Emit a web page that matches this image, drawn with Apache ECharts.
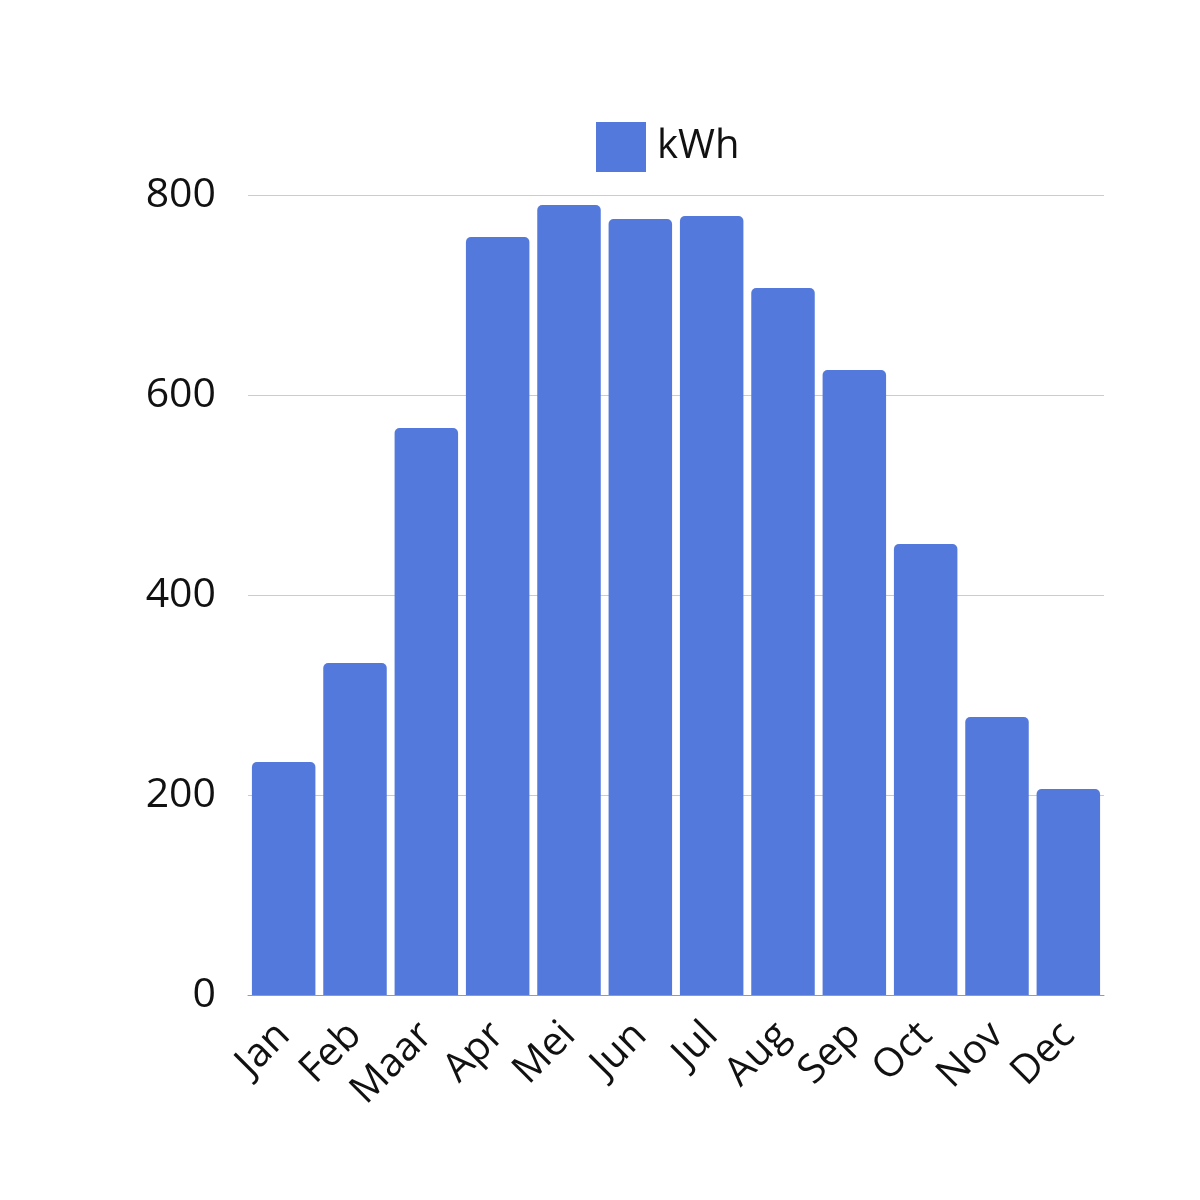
<!DOCTYPE html>
<html>
<head>
<meta charset="utf-8">
<script src="https://cdn.jsdelivr.net/npm/echarts@6/dist/echarts.min.js"></script>
<style>
  html, body { margin: 0; padding: 0; background: #fff; }
  #chart { width: 1200px; height: 1200px; }
</style>
</head>
<body>
<div id="chart"></div>
<script>
const months = ['Jan', 'Feb', 'Maar', 'Apr', 'Mei', 'Jun', 'Jul', 'Aug', 'Sep', 'Oct', 'Nov', 'Dec'];
const kwh = [233, 332, 567, 758, 790, 776, 779, 707, 625, 451, 278, 206];
const yTicks = [0, 200, 400, 600, 800];

const fontName = 'Open Sans';

var dom = document.getElementById('chart');
var myChart = echarts.init(dom, null, { renderer: 'canvas' });

var option = {
  animation: false,
  textStyle: { fontFamily: fontName },
  legend: {
    data: ['kWh'],
    top: 117,
    left: 591,
    itemWidth: 50,
    itemHeight: 50,
    itemGap: 10,
    icon: 'rect',
    textStyle: { fontSize: 40, color: '#111', fontFamily: fontName, padding: [0, 0, 0, 6] }
  },
  grid: { left: 248, right: 96, top: 195, bottom: 205, containLabel: false },
  xAxis: {
    type: 'category',
    data: months,
    axisTick: { show: false },
    axisLine: { lineStyle: { color: '#9a9a9a', width: 1 } },
    axisLabel: {
      rotate: 45,
      fontSize: 40,
      color: '#111',
      margin: 34,
      interval: 0,
      fontFamily: fontName
    }
  },
  yAxis: {
    type: 'value',
    min: yTicks[0],
    max: yTicks[yTicks.length - 1],
    interval: 200,
    axisLine: { show: false },
    axisTick: { show: false },
    splitLine: { lineStyle: { color: '#cccccc', width: 1 } },
    axisLabel: { fontSize: 41, color: '#111', margin: 32, fontFamily: fontName }
  },
  series: [{
    name: 'kWh',
    type: 'bar',
    data: kwh,
    barCategoryGap: '11%',
    itemStyle: { color: '#5479DC', borderRadius: [5, 5, 0, 0] }
  }]
};

myChart.setOption(option);
window.addEventListener('resize', myChart.resize);
</script>
</body>
</html>
